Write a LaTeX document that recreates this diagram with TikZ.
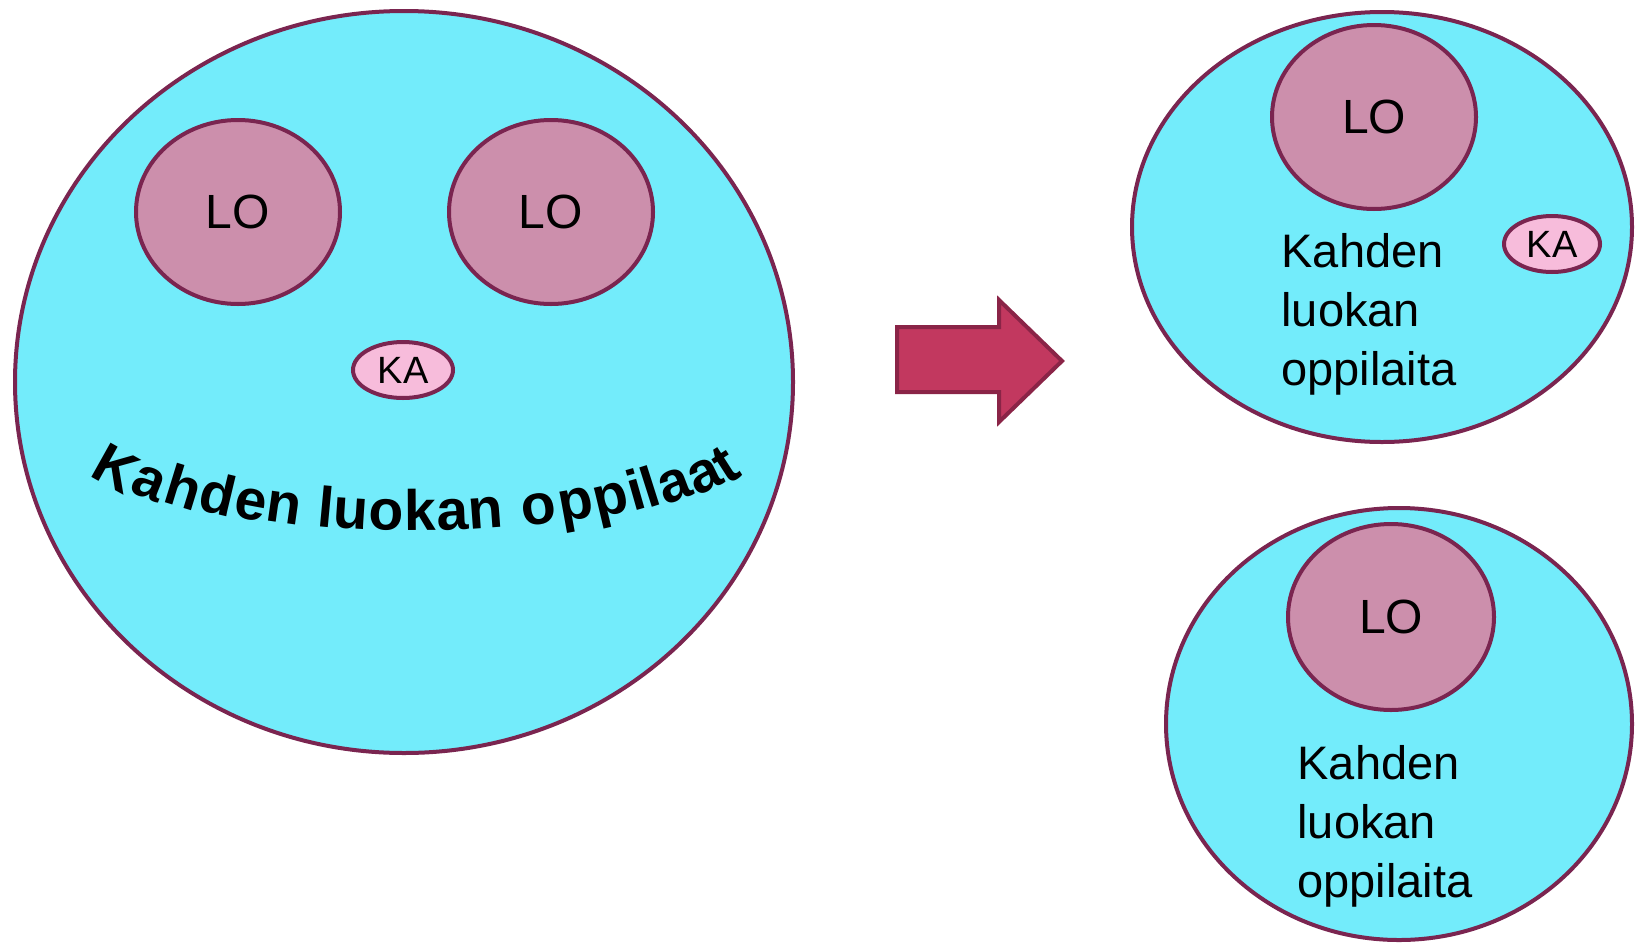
\documentclass[tikz,border=0pt]{standalone}
\usepackage{fontspec}
\setmainfont{Liberation Sans}
\usetikzlibrary{shapes.geometric}

\definecolor{pool}{HTML}{73ECFB}
\definecolor{rim}{HTML}{7A2550}
\definecolor{mauve}{HTML}{CC8FAC}
\definecolor{blush}{HTML}{F7BCDB}
\definecolor{arrowfill}{HTML}{C2385F}
\definecolor{arrowrim}{HTML}{8A2447}

\begin{document}
\begin{tikzpicture}[x=1pt,y=1pt,
    group/.style={ellipse,draw=rim,fill=pool,line width=4pt,inner sep=0pt},
    lo/.style={ellipse,draw=rim,fill=mauve,line width=4pt,inner sep=0pt,
      minimum width=204pt,minimum height=184pt,font=\fontsize{48}{48}\selectfont},
    ka/.style={ellipse,draw=rim,fill=blush,line width=4pt,inner sep=0pt,
      minimum width=98pt,minimum height=56pt,font=\fontsize{38}{38}\selectfont},
    lbl/.style={align=left,anchor=west,font=\fontsize{47}{59}\selectfont},
    kirjain/.style={font=\bfseries\fontsize{57}{57}\selectfont,inner sep=0pt,anchor=base}]

  \useasboundingbox (0,0) rectangle (1640,-945);

  % the big class
  \node[group,minimum width=778pt,minimum height=742pt] (koulu) at (404,-382) {};
  \node[lo] (lo1) at (238,-212) {LO};
  \node[lo] (lo2) at (551,-212) {LO};
  \node[ka,minimum width=100pt] (ka1) at (403,-370) {KA};
  % arched title, one letter at a time along an ellipse
  \foreach \merkki/\kulma [count=\i] in {K/-56.5,a/-47.3,h/-39.8,d/-33.0,e/-26.9,
      n/-21.1,l/-14.2,u/-10.1,o/-4.5,k/0.8,a/6.0,n/11.2,o/19.8,p/26.2,
      p/32.6,i/37.6,l/40.7,a/45.9,a/53.2,t/60.0}
    \node[kirjain,rotate={atan(0.37*tan(\kulma))}] (kirjain\i)
      at ({415+370*sin(\kulma)},{-430-100*cos(\kulma)}) {\merkki};

  % block arrow
  \draw[fill=arrowfill,draw=arrowrim,line width=4pt,line join=miter]
    (897,-327) -- (999,-327) -- (999,-300) -- (1062,-361) -- (999,-422)
    -- (999,-392) -- (897,-392) -- cycle;

  % upper group
  \node[group,minimum width=500pt,minimum height=430pt] (ryhma1) at (1382,-227) {};
  \node[lo] (lo3) at (1374,-117) {LO};
  \node[ka,minimum width=96pt] (ka2) at (1552,-244) {KA};
  \node[lbl] (teksti1) at (1278,-314) {Kahden\\luokan\\oppilaita};

  % lower group
  \node[group,minimum width=466pt,minimum height=432pt] (ryhma2) at (1399,-724) {};
  \node[lo,minimum width=206pt,minimum height=186pt] (lo4) at (1391,-617) {LO};
  \node[lbl] (teksti2) at (1294,-826) {Kahden\\luokan\\oppilaita};
\end{tikzpicture}
\end{document}
